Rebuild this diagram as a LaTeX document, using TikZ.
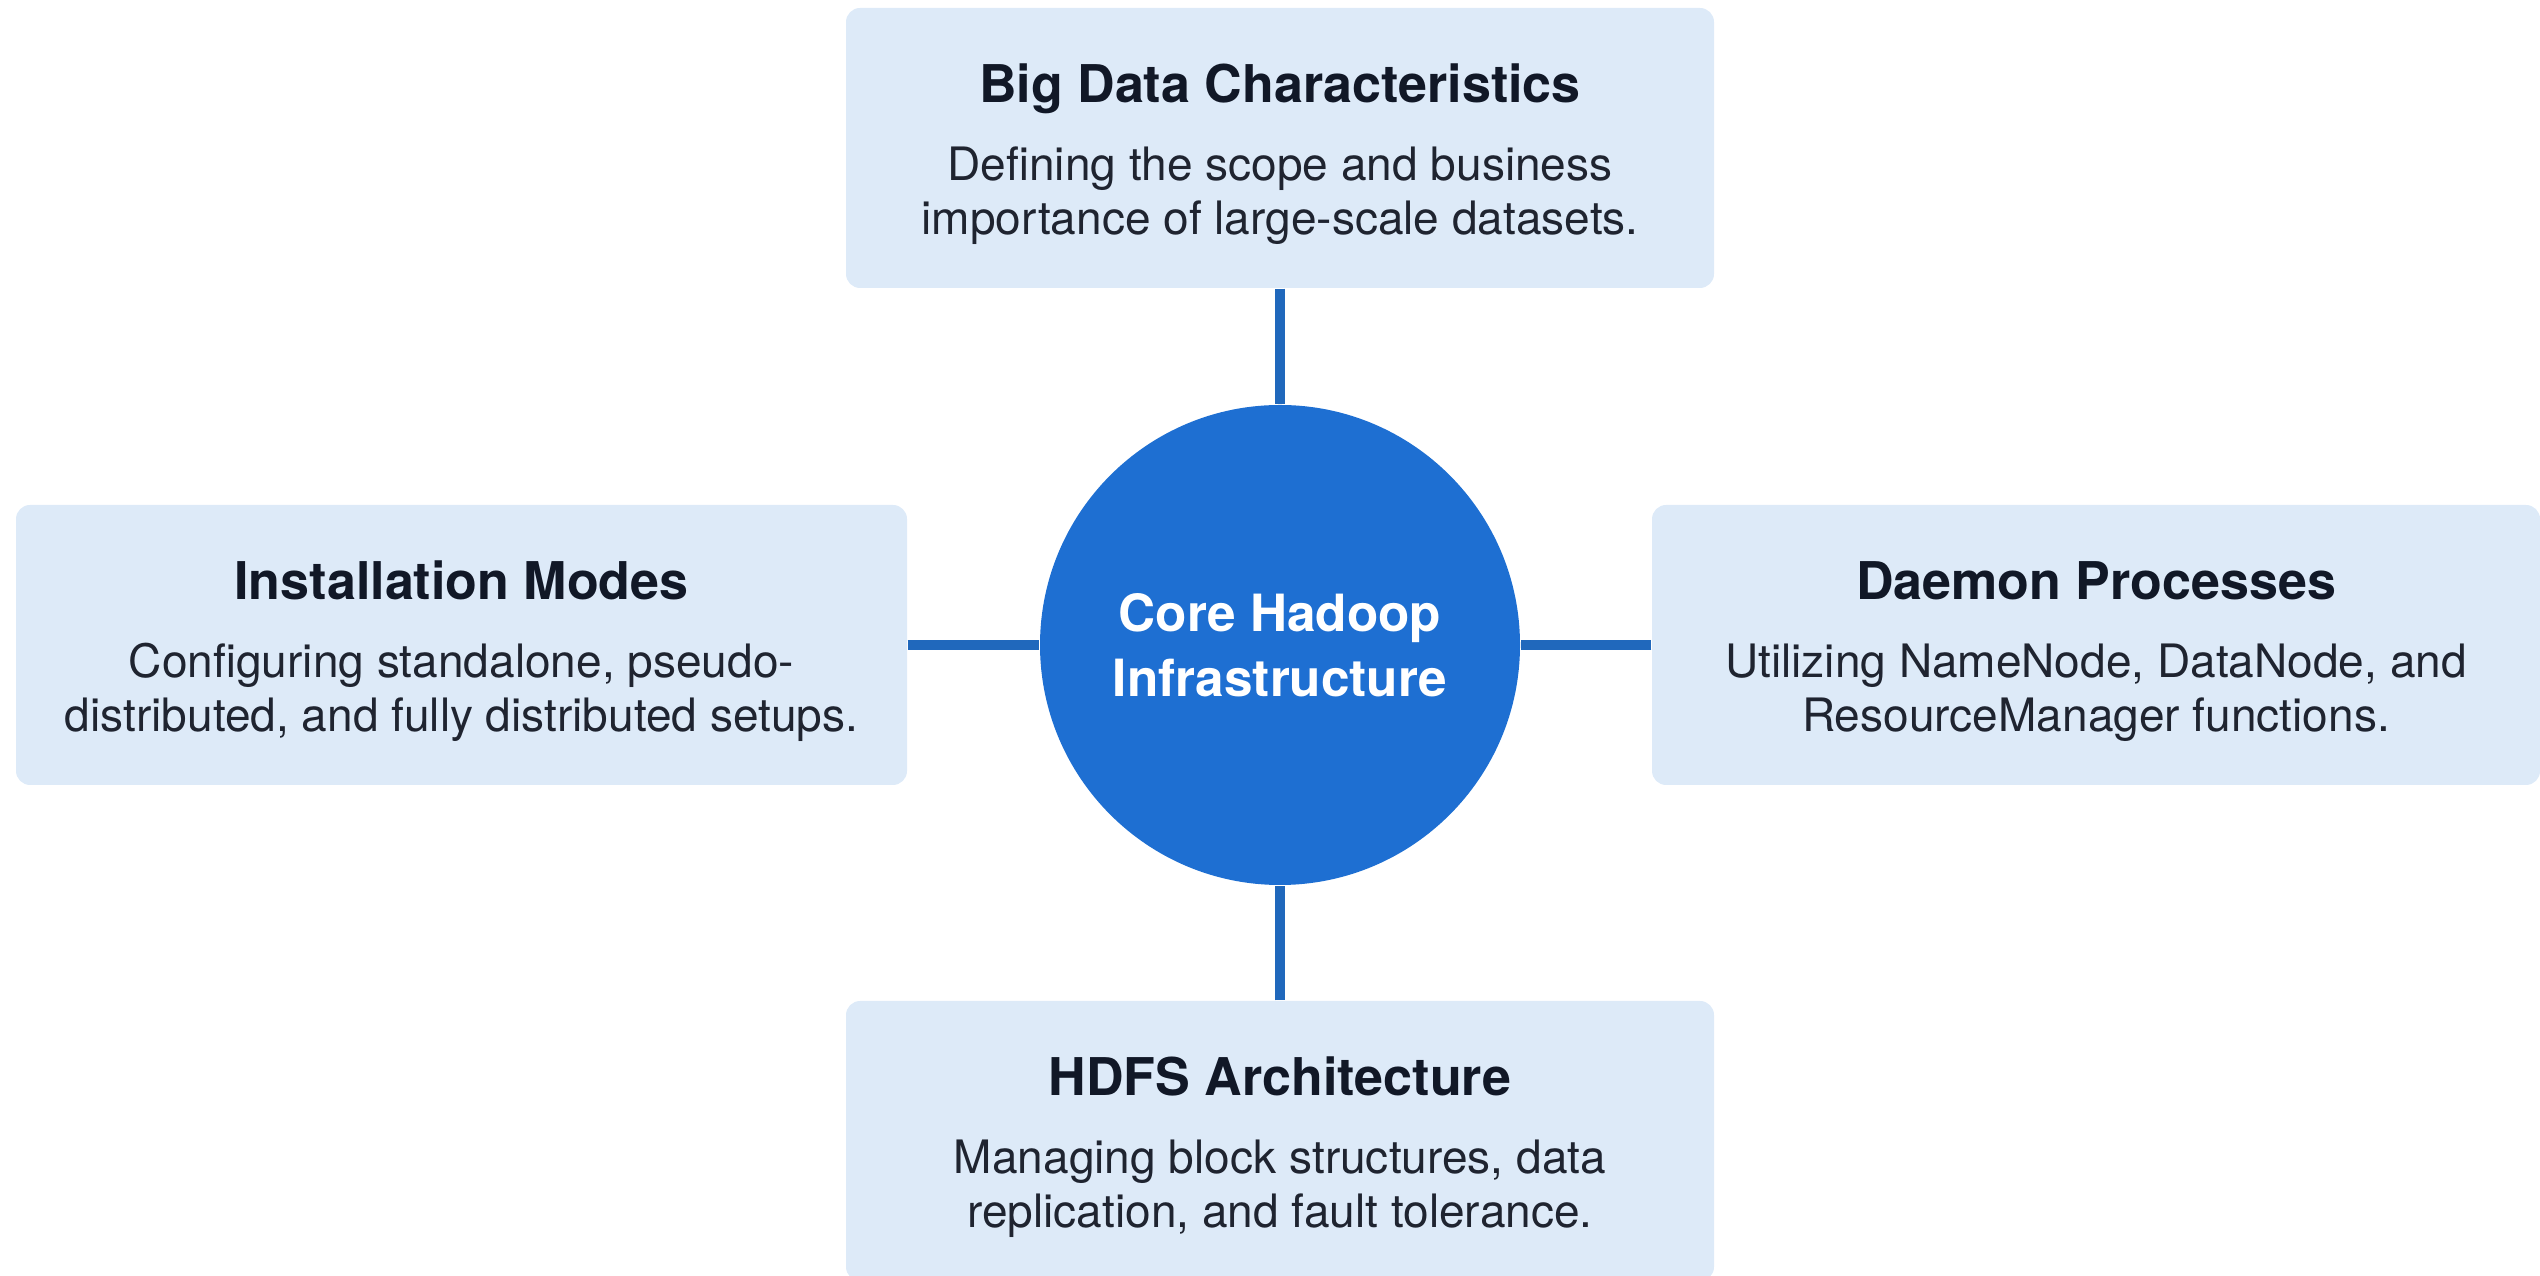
\documentclass[tikz,border=0pt]{standalone}
\usepackage{fontspec}
\setmainfont{TeX Gyre Heros}
\usepackage{tikz}
\definecolor{boxfill}{HTML}{DDEAF8}
\definecolor{hubblue}{HTML}{1E6FD2}
\definecolor{linkblue}{HTML}{2068BC}
\definecolor{inkdark}{HTML}{111827}
\definecolor{inkbody}{HTML}{1F2430}
\newcommand{\ttlfont}{\fontsize{14.8}{17}\selectfont\bfseries\color{inkdark}\rule{0pt}{14.5pt}}
\tikzset{
  topic/.style={rectangle, rounded corners=4pt, fill=boxfill, align=center,
    minimum width=8.8cm, minimum height=2.8cm, text=inkbody,
    font=\fontsize{13.1}{15.4}\selectfont},
  hub/.style={circle, fill=hubblue, minimum size=4.8cm, align=center, text=white,
    font=\fontsize{14.6}{18.5}\selectfont\bfseries},
  link/.style={draw=linkblue, line width=2.6pt}
}

\begin{document}
\begin{tikzpicture}
\useasboundingbox (0,0) rectangle (25.4,12.76);
\node[hub] (core) at (12.80,6.31) {Core Hadoop\\Infrastructure};
\node[topic, minimum width=8.68cm] (bigdata) at (12.80,11.28)
  {{\ttlfont Big Data Characteristics}\\[6.6pt]Defining the scope and business\\importance of large-scale datasets.};
\node[topic, minimum width=8.91cm] (modes) at (4.615,6.31)
  {{\ttlfont Installation Modes}\\[6.6pt]Configuring standalone, pseudo-\\distributed, and fully distributed setups.};
\node[topic, minimum width=8.88cm] (daemons) at (20.96,6.31)
  {{\ttlfont Daemon Processes}\\[6.6pt]Utilizing NameNode, DataNode, and\\ResourceManager functions.};
\node[topic, minimum width=8.68cm] (hdfs) at (12.80,1.35)
  {{\ttlfont HDFS Architecture}\\[6.6pt]Managing block structures, data\\replication, and fault tolerance.};

\draw[link] (bigdata) to (core);
\draw[link] (modes) to (core);
\draw[link] (daemons) to (core);
\draw[link] (hdfs) to (core);
\end{tikzpicture}
\end{document}
